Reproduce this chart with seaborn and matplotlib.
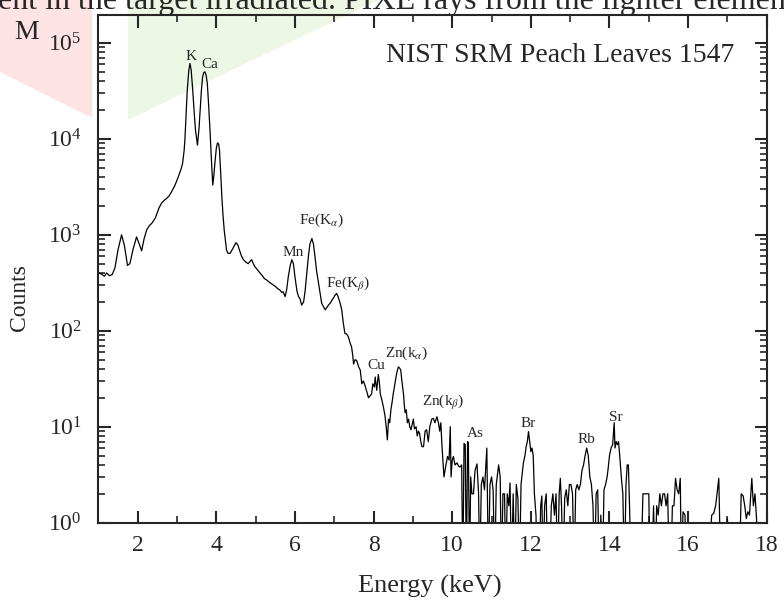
import numpy as np
import pandas as pd
import matplotlib
matplotlib.use("Agg")
import matplotlib.pyplot as plt
from matplotlib.patches import Polygon
from matplotlib.ticker import MultipleLocator
import seaborn as sns

# spectrum (keV, counts); 0.3 = empty channel (below axis)
energy = [
    1.00, 1.08, 1.15, 1.21, 1.28, 1.35, 1.42, 1.50, 1.59, 1.66, 1.74, 1.80, 1.88, 1.97, 2.04, 2.10,
    2.16, 2.23, 2.30, 2.36, 2.45, 2.54, 2.61, 2.68, 2.74, 2.80, 2.86, 2.95, 3.03, 3.10, 3.14, 3.18,
    3.20, 3.23, 3.26, 3.30, 3.33, 3.36, 3.40, 3.44, 3.47, 3.52, 3.56, 3.59, 3.62, 3.65, 3.68, 3.71,
    3.74, 3.77, 3.80, 3.84, 3.88, 3.91, 3.94, 3.97, 4.00, 4.03, 4.06, 4.08, 4.11, 4.14, 4.17, 4.20,
    4.26, 4.30, 4.35, 4.42, 4.50, 4.55, 4.59, 4.64, 4.69, 4.75, 4.81, 4.86, 4.90, 4.94, 4.98, 5.05,
    5.11, 5.18, 5.22, 5.28, 5.35, 5.40, 5.45, 5.50, 5.56, 5.62, 5.67, 5.70, 5.75, 5.79, 5.83, 5.88,
    5.92, 5.96, 6.00, 6.05, 6.09, 6.13, 6.17, 6.22, 6.26, 6.30, 6.34, 6.38, 6.43, 6.47, 6.51, 6.55,
    6.60, 6.64, 6.68, 6.72, 6.77, 6.81, 6.85, 6.90, 6.94, 6.98, 7.02, 7.06, 7.10, 7.15, 7.19, 7.23,
    7.27, 7.32, 7.36, 7.40, 7.44, 7.47, 7.49, 7.53, 7.57, 7.62, 7.66, 7.70, 7.74, 7.78, 7.83, 7.87,
    7.91, 7.95, 7.98, 8.02, 8.04, 8.08, 8.12, 8.15, 8.17, 8.21, 8.25, 8.29, 8.32, 8.35, 8.38, 8.41,
    8.44, 8.47, 8.50, 8.54, 8.57, 8.60, 8.63, 8.66, 8.69, 8.72, 8.76, 8.78, 8.80, 8.83, 8.86, 8.89,
    8.92, 8.95, 8.98, 9.01, 9.04, 9.08, 9.11, 9.14, 9.17, 9.20, 9.23, 9.27, 9.31, 9.35, 9.39, 9.43,
    9.48, 9.52, 9.56, 9.61, 9.65, 9.68, 9.71, 9.74, 9.77, 9.79, 9.84, 9.88, 9.92, 9.95, 9.97, 10.00,
    10.03, 10.07, 10.12, 10.16, 10.20, 10.24, 10.27, 10.30, 10.33, 10.36, 10.39, 10.41, 10.44, 10.47,
    10.50, 10.54, 10.58, 10.63, 10.67, 10.70, 10.74, 10.78, 10.82, 10.88, 10.92, 10.96, 11.00, 11.04,
    11.08, 11.12, 11.18, 11.22, 11.25, 11.29, 11.33, 11.36, 11.40, 11.44, 11.47, 11.51, 11.55, 11.59,
    11.63, 11.67, 11.71, 11.75, 11.81, 11.85, 11.88, 11.91, 11.94, 11.97, 12.00, 12.03, 12.06, 12.09,
    12.13, 12.17, 12.21, 12.25, 12.28, 12.31, 12.35, 12.39, 12.43, 12.47, 12.52, 12.56, 12.60, 12.64,
    12.68, 12.72, 12.75, 12.78, 12.82, 12.86, 12.90, 12.94, 12.98, 13.02, 13.06, 13.10, 13.14, 13.18,
    13.22, 13.26, 13.30, 13.34, 13.38, 13.42, 13.46, 13.50, 13.54, 13.58, 13.62, 13.66, 13.70, 13.74,
    13.78, 13.82, 13.86, 13.90, 13.94, 13.97, 14.00, 14.04, 14.08, 14.12, 14.14, 14.17, 14.20, 14.23,
    14.26, 14.30, 14.34, 14.38, 14.42, 14.45, 14.48, 14.51, 14.55, 14.60, 14.70, 14.80, 14.85, 14.88,
    14.95, 15.00, 15.03, 15.08, 15.12, 15.16, 15.20, 15.24, 15.28, 15.32, 15.36, 15.40, 15.44, 15.48,
    15.52, 15.56, 15.60, 15.64, 15.68, 15.72, 15.76, 15.80, 15.83, 15.87, 15.92, 15.97, 16.10, 16.30,
    16.50, 16.60, 16.65, 16.70, 16.78, 16.83, 16.95, 17.00, 17.05, 17.30, 17.35, 17.40, 17.44, 17.48,
    17.52, 17.56, 17.62, 17.66, 17.70, 17.74, 17.78, 17.85,
]
counts = [
    400, 390, 370, 400, 375, 385, 450, 700, 1000, 780, 480, 500, 700, 950, 800, 680,
    900, 1130, 1250, 1320, 1500, 1900, 2150, 2300, 2400, 2550, 2800, 3300, 4000, 4800, 5500, 7500,
    9700, 18000, 32000, 52000, 61000, 52000, 32000, 18000, 12300, 8600, 13000, 20000, 32000, 44000, 49000, 50000,
    46000, 38000, 24000, 12000, 5500, 3300, 4300, 6000, 8000, 9100, 8800, 7600, 4500, 2500, 1600, 1120,
    690, 640, 640, 720, 830, 780, 690, 600, 550, 520, 500, 530, 550, 500, 465, 430,
    400, 370, 350, 338, 320, 310, 300, 290, 275, 265, 250, 255, 227, 270, 365, 480,
    550, 500, 365, 260, 227, 215, 185, 200, 265, 400, 590, 800, 915, 800, 590, 420,
    310, 240, 193, 180, 165, 175, 185, 195, 208, 220, 235, 245, 225, 193, 165, 120,
    94, 92, 86, 75, 68, 55, 45, 50, 49, 42, 39, 28, 30, 27, 23, 20,
    21, 22, 28, 26, 33, 24, 35, 28, 22, 19, 16, 13, 10, 7.3, 12, 11,
    15, 18, 22, 28, 33, 38, 42, 41, 39, 30, 22, 17, 14, 15, 11, 12,
    10, 9.3, 10.5, 12, 9.5, 10, 8, 9, 8.5, 7, 6.2, 6.2, 9, 9.3, 7, 10,
    12, 12.2, 11, 12.7, 11, 9, 11, 6.2, 4, 3.0, 4, 4.9, 4.5, 10, 3, 4.5,
    4.9, 4.0, 4.2, 3.9, 3.8, 4.0, 0.3, 6.7, 6.5, 0.3, 7, 6.8, 0.3, 3,
    2, 2, 3.5, 4.1, 2, 0.3, 2.5, 3.0, 2.2, 6, 0.3, 2.5, 3, 2.2,
    0.3, 2.5, 4, 3, 0.3, 2, 2, 0.3, 2, 1.5, 2.6, 0.3, 2, 0.3,
    2.5, 1.8, 0.3, 2.5, 4.2, 5, 6.2, 7, 8.9, 7, 5.5, 6, 5, 2,
    1.2, 0.3, 0.3, 1.5, 1.9, 0.3, 1.5, 2, 0.3, 0.3, 1.5, 2, 1.2, 2,
    0.3, 2, 2.9, 1.5, 0.3, 1.8, 2.2, 1.5, 2.5, 2.5, 2, 0.3, 2.2, 2.5,
    2.2, 2.5, 3.5, 4, 5, 6, 5, 3, 2.5, 1.5, 0.3, 2, 2.2, 0.3,
    1.2, 0.3, 2.2, 2.5, 3, 3.8, 5, 6, 6.5, 11, 6, 7, 6.5, 7,
    5, 3, 2, 0.3, 2.5, 4, 4, 1.5, 0.3, 0.3, 0.3, 0.3, 2, 2,
    2, 2, 0.3, 0.3, 1.5, 0.3, 1.5, 1.2, 2, 1.5, 2, 2, 1.5, 2,
    0.3, 0.3, 1.5, 1.5, 2.9, 2.2, 2, 2.9, 0.3, 1.3, 1.2, 0.3, 0.3, 0.3,
    0.3, 1.2, 1.25, 1.5, 2.9, 0.3, 0.3, 1.1, 0.3, 0.3, 2, 1.9, 1.5, 1.1,
    1.3, 1.2, 2.9, 1.5, 2.0, 1.1, 0.3, 0.3,
]

peak_names = ["K", "Ca", "Mn", r"Fe(K$_{\alpha}$)", r"Fe(K$_{\beta}$)", "Cu",
              r"Zn(k$_{\alpha}$)", r"Zn(k$_{\beta}$)", "As", "Br", "Rb", "Sr"]
# label anchor points (keV, counts)
peak_label_x = [3.37, 3.84, 5.96, 6.68, 7.36, 8.06, 8.84, 9.78, 10.58, 11.94, 13.42, 14.15]
peak_label_y = [72000, 60000, 650, 1400, 306, 43, 58, 18, 8.5, 10.8, 7.3, 12.5]

sample_name = "NIST SRM Peach Leaves 1547"

df = pd.DataFrame({"Energy": energy, "Counts": counts})

sns.set_style("ticks")
plt.rcParams["font.family"] = ["Liberation Serif", "DejaVu Serif"]
plt.rcParams["mathtext.fontset"] = "stix"

fig = plt.figure(figsize=(7.84, 6.04), dpi=100)
ax = fig.add_axes([0.1255, 0.1346, 0.8525, 0.8405])
ax.patch.set_alpha(0)

# faint coloured blocks of the page behind the figure
fig.patches.append(Polygon([[0, 1], [0.1173, 1], [0.1173, 0.805], [0, 0.881]],
                           closed=True, transform=fig.transFigure,
                           facecolor="#fde3e3", edgecolor="none", zorder=-5))
fig.patches.append(Polygon([[0.163, 1], [0.482, 1], [0.163, 0.801]],
                           closed=True, transform=fig.transFigure,
                           facecolor="#eef7e6", edgecolor="none", zorder=-5))

sns.lineplot(data=df, x="Energy", y="Counts", ax=ax, color="black",
             linewidth=0.9, estimator=None, sort=False)
ax.set_yscale("log")
ax.set_xlim(1, 18)
ax.set_ylim(1, 1.95e5)

ax.xaxis.set_major_locator(MultipleLocator(2))
ax.xaxis.set_minor_locator(MultipleLocator(1))
ax.tick_params(which="both", direction="in", top=True, right=True, labelsize=17)
ax.tick_params(which="major", length=9, width=1.5)
ax.tick_params(which="minor", length=5, width=1.2)
ax.tick_params(axis="x", pad=9)
ax.tick_params(axis="y", pad=12)
for s in ax.spines.values():
    s.set_linewidth(1.5)

ax.set_xlabel("Energy (keV)", fontsize=19)
ax.set_ylabel("Counts", fontsize=17)
ax.xaxis.set_label_coords(0.496, -0.102)
ax.yaxis.set_label_coords(-0.102, 0.443)

for name, px, py in zip(peak_names, peak_label_x, peak_label_y):
    ax.text(px, py, name, fontsize=11, ha="center", va="center")

ax.text(0.952, 0.907, sample_name, transform=ax.transAxes, fontsize=20,
        ha="right", va="baseline")

# cut-off page text around the figure
fig.text(-0.002, 0.985, "ent in the target irradiated. PIXE rays from the lighter elements",
         fontsize=23, ha="left", va="baseline")
fig.text(0.018, 0.935, "M", fontsize=20, ha="left", va="baseline")

fig.savefig("out.png", dpi=100)
